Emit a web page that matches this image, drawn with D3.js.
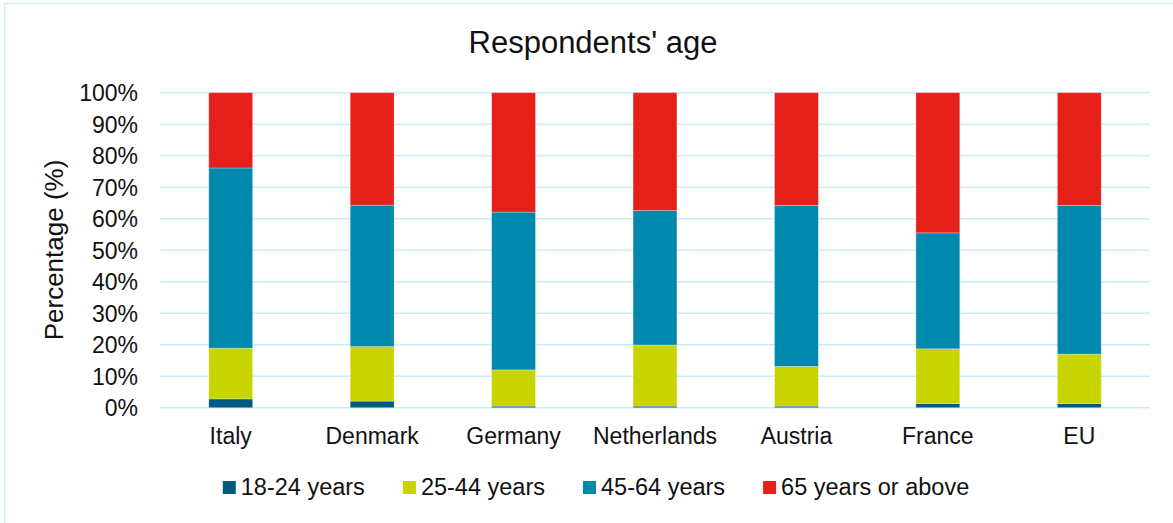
<!DOCTYPE html>
<html lang="en">
<head>
	<meta charset="utf-8">
	<script src="https://d3js.org/d3.v7.min.js"></script>
	<style>
		body { margin: 0; background: #fff; }
		text { font-family: "Liberation Sans", Arial, sans-serif; fill: #111; }
	</style>
</head>
<body>
	<script type="text/javascript">

		// data (percent of respondents)
		var countries = ["Italy", "Denmark", "Germany", "Netherlands", "Austria", "France", "EU"];
		var ageGroups = ["18-24 years", "25-44 years", "45-64 years", "65 years or above"];
		var age18to24 = [2.8, 2.1, 0.5, 0.5, 0.5, 1.3, 1.3];
		var age25to44 = [16.1, 17.3, 11.5, 19.4, 12.6, 17.4, 15.7];
		var age45to64 = [57.2, 44.9, 50.1, 42.7, 51.1, 36.8, 47.2];
		var age65plus = [23.9, 35.7, 37.9, 37.4, 35.8, 44.5, 35.8];
		var yTicks = [0, 10, 20, 30, 40, 50, 60, 70, 80, 90, 100];
		var groupColors = ["#005a82", "#c8d400", "#0088ad", "#e42019"];

		var svgWidth = 1173;
		var svgHeight = 523;

		var svg = d3.select("body")
			.append("svg")
			.attr("width", svgWidth)
			.attr("height", svgHeight);

		// chart frame (runs off the right and bottom edge like the reference)
		svg.append("rect")
			.attr("x", 4.5)
			.attr("y", 3.5)
			.attr("width", 1300)
			.attr("height", 700)
			.attr("fill", "none")
			.attr("stroke", "#cdeefb")
			.attr("stroke-width", 1.5);

		// build table for stacking
		var table = countries.map(function(c, i) {
			var row = {country: c};
			row[ageGroups[0]] = age18to24[i];
			row[ageGroups[1]] = age25to44[i];
			row[ageGroups[2]] = age45to64[i];
			row[ageGroups[3]] = age65plus[i];
			return row;
		});
		var series = d3.stack().keys(ageGroups)(table);

		var x = d3.scaleBand()
			.domain(countries)
			.range([160, 1150])
			.paddingInner(0.69)
			.paddingOuter(0.345);

		var y = d3.scaleLinear()
			.domain([0, 100])
			.range([407.7, 92.7]);

		var color = d3.scaleOrdinal()
			.domain(ageGroups)
			.range(groupColors);

		//gridlines
		svg.append("g")
			.selectAll("line")
			.data(yTicks)
			.enter()
			.append("line")
				.attr("x1", 160)
				.attr("x2", 1150)
				.attr("y1", function(d) {return y(d);})
				.attr("y2", function(d) {return y(d);})
				.attr("stroke", "#c9ecfb")
				.attr("stroke-width", 1.6);

		//y axis labels
		var yAxis = d3.axisLeft(y)
			.tickValues(yTicks)
			.tickFormat(function(d) {return d + "%";})
			.tickSize(0)
			.tickPadding(0);

		var yAxisG = svg.append("g")
			.attr("transform", "translate(138,0)")
			.call(yAxis);
		yAxisG.select(".domain").remove();
		yAxisG.selectAll("text")
			.style("font-family", "'Liberation Sans', Arial, sans-serif")
			.style("font-size", "23px")
			.attr("fill", "#111")
			.attr("dy", "0.36em");

		//stacked bars
		svg.append("g")
			.selectAll("g")
			.data(series)
			.enter()
			.append("g")
				.attr("fill", function(d) {return color(d.key);})
			.selectAll("rect")
			.data(function(d) {return d;})
			.enter()
			.append("rect")
				.attr("x", function(d) {return x(d.data.country);})
				.attr("y", function(d) {return y(d[1]);})
				.attr("width", x.bandwidth())
				.attr("height", function(d) {return y(d[0]) - y(d[1]);})
				.attr("stroke", "#ffffff")
				.attr("stroke-opacity", 0.35)
				.attr("stroke-width", 0.8);

		//x axis labels
		var xAxis = d3.axisBottom(x).tickSize(0).tickPadding(0);
		var xAxisG = svg.append("g")
			.attr("transform", "translate(0,444)")
			.call(xAxis);
		xAxisG.select(".domain").remove();
		xAxisG.selectAll("text")
			.style("font-family", "'Liberation Sans', Arial, sans-serif")
			.style("font-size", "23px")
			.attr("fill", "#111")
			.attr("y", 0)
			.attr("dy", 0);

		//title
		svg.append("text")
			.attr("x", 593)
			.attr("y", 53)
			.attr("text-anchor", "middle")
			.style("font-size", "31px")
			.text("Respondents' age");

		//y axis title
		svg.append("text")
			.attr("transform", "translate(63,250) rotate(-90)")
			.attr("text-anchor", "middle")
			.style("font-size", "26px")
			.text("Percentage (%)");

		//legend
		var legend = svg.append("g");
		var items = legend.selectAll("g")
			.data(ageGroups)
			.enter()
			.append("g");
		items.append("rect")
			.attr("width", 13)
			.attr("height", 13)
			.attr("y", -14)
			.attr("fill", function(d) {return color(d);});
		items.append("text")
			.attr("x", 18)
			.style("font-size", "23.5px")
			.text(function(d) {return d;});

		var legendX = 0;
		items.each(function() {
			var g = d3.select(this);
			g.attr("transform", "translate(" + legendX + ",0)");
			legendX += 18 + g.select("text").node().getComputedTextLength() + 38;
		});
		legendX -= 38;
		legend.attr("transform", "translate(" + (596 - legendX / 2) + ",495)");

	</script>
</body>
</html>
